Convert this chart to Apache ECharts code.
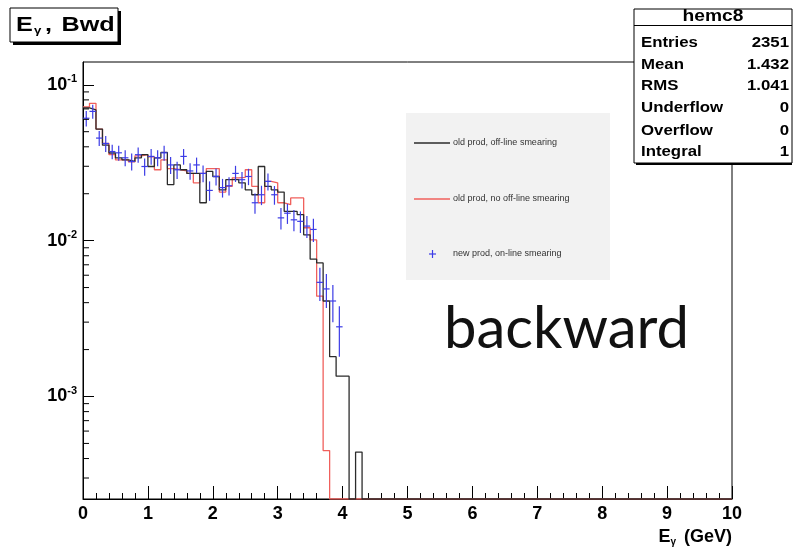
<!DOCTYPE html>
<html>
<head>
<meta charset="utf-8">
<script src="https://cdn.jsdelivr.net/npm/echarts@6/dist/echarts.min.js"></script>
<style>
  html, body { margin: 0; padding: 0; background: #ffffff; }
  #chart { width: 796px; height: 550px; }
</style>
</head>
<body>
<div id="chart"></div>
<script>
// ---- histogram content: 0.1 GeV bins starting at E = 0 ----
const BIN_WIDTH = 0.1;

// old prod, off-line smearing (bins 0 .. 42, later bins empty)
const oldOfflineSmearing = [
  0.071, 0.069, 0.052, 0.041, 0.0365, 0.034, 0.033, 0.0322, 0.034, 0.0356,
  0.0299, 0.034, 0.0368, 0.0229, 0.0306, 0.0285, 0.027, 0.027, 0.0175, 0.0278,
  0.0258, 0.0212, 0.0246, 0.0246, 0.0235, 0.0212, 0.0197, 0.0299, 0.0223, 0.0212,
  0.0205, 0.0154, 0.0154, 0.0147, 0.0109, 0.0076, 0.0072, 0.0041, 0.0018, 0.00135,
  0.00135, 0, 0.00044
];

// old prod, no off-line smearing (bins 0 .. 37)
const oldNoSmearing = [
  0.072, 0.076, 0.052, 0.042, 0.0356, 0.033, 0.033, 0.032, 0.035, 0.0356,
  0.0345, 0.0285, 0.033, 0.029, 0.0285, 0.028, 0.027, 0.0235, 0.027, 0.029,
  0.029, 0.0205, 0.0223, 0.0253, 0.0255, 0.0285, 0.0223, 0.0175, 0.024, 0.0235,
  0.0175, 0.017, 0.0188, 0.0188, 0.0121, 0.0101, 0.0044, 0.00045
];

// new prod, on-line smearing: bin contents and their errors (bins 0 .. 39)
const newOnlineSmearing = [
  0.061, 0.0675, 0.0455, 0.042, 0.0373, 0.0366, 0.034, 0.0322, 0.0356, 0.0299,
  0.0347, 0.034, 0.0366, 0.0306, 0.0285, 0.0347, 0.028, 0.0306, 0.027, 0.021,
  0.0258, 0.0219, 0.0225, 0.027, 0.0246, 0.0258, 0.0175, 0.0197, 0.024, 0.0197,
  0.014, 0.015, 0.0136, 0.0133, 0.0124, 0.0118, 0.0054, 0.0049, 0.0041, 0.0028
];
const newOnlineErrors = [
  0.007, 0.007, 0.005, 0.005, 0.004, 0.004, 0.004, 0.004, 0.004, 0.0038,
  0.004, 0.004, 0.004, 0.0038, 0.0036, 0.004, 0.0034, 0.0035, 0.0033, 0.003,
  0.0032, 0.003, 0.003, 0.0032, 0.003, 0.0031, 0.0026, 0.0028, 0.003, 0.0027,
  0.0022, 0.0022, 0.0021, 0.0021, 0.002, 0.002, 0.0013, 0.0012, 0.0011, 0.001
];

// log-axis minor tick values (2..9 per decade inside the frame)
const yMinorTicks = [
  3e-4, 4e-4, 5e-4, 6e-4, 7e-4, 8e-4, 9e-4,
  2e-3, 3e-3, 4e-3, 5e-3, 6e-3, 7e-3, 8e-3, 9e-3,
  2e-2, 3e-2, 4e-2, 5e-2, 6e-2, 7e-2, 8e-2, 9e-2
];

const legendLabels = [
  'old prod, off-line smearing',
  'old prod, no off-line smearing',
  'new prod, on-line smearing'
];
const statsLabels = ['Entries', 'Mean', 'RMS', 'Underflow', 'Overflow', 'Integral'];
const statsValues = ['2351', '1.432', '1.041', '0', '0', '1'];

// ---- axis ranges and styling ----
const X_MIN = 0, X_MAX = 10;
const Y_MIN = 2.2e-4, Y_MAX = 0.14;
const FONT = '"Liberation Sans", Arial, Helvetica, sans-serif';
const BLACK = '#2b2b2b';
const RED = '#f0605c';
const BLUE = '#3c3ce6';

// Step outline of a histogram; empty bins sit on the bottom of the frame.
function stepPoints(values) {
  const pts = values.map((v, i) => [i * BIN_WIDTH, v > 0 ? v : Y_MIN]);
  pts.push([values.length * BIN_WIDTH, Y_MIN]);
  pts.push([X_MAX, Y_MIN]);
  return pts;
}

const chart = echarts.init(document.getElementById('chart'), null, { renderer: 'canvas' });

const statsRowY = [43, 64.5, 86, 108, 130.5, 152];
const legendRowY = [143, 199, 254];

const graphics = [
  // title box with shadow
  { type: 'rect', z: 10, shape: { x: 13, y: 11, width: 108, height: 34 }, style: { fill: '#000' } },
  { type: 'rect', z: 11, shape: { x: 10, y: 8, width: 108, height: 34 }, style: { fill: '#fff', stroke: '#000', lineWidth: 1 } },
  {
    type: 'text', z: 12, x: 16, y: 25, scaleX: 1.2,
    style: {
      text: '{e|E}{s|γ}{c|,}{b|Bwd}',
      verticalAlign: 'middle',
      rich: {
        e: { fontFamily: FONT, fontWeight: 'bold', fontSize: 21, fill: '#000' },
        s: { fontFamily: FONT, fontWeight: 'bold', fontSize: 11, fill: '#000', padding: [12, 2, 0, 1] },
        c: { fontFamily: FONT, fontWeight: 'bold', fontSize: 21, fill: '#000', padding: [0, 8, 0, 1] },
        b: { fontFamily: FONT, fontWeight: 'bold', fontSize: 21, fill: '#000' }
      }
    }
  },
  // statistics box with shadow
  { type: 'rect', z: 10, shape: { x: 636, y: 11, width: 156, height: 154 }, style: { fill: '#000' } },
  { type: 'rect', z: 11, shape: { x: 634, y: 9, width: 158, height: 154 }, style: { fill: '#fff', stroke: '#000', lineWidth: 1 } },
  { type: 'line', z: 12, shape: { x1: 634, y1: 25.5, x2: 792, y2: 25.5 }, style: { stroke: '#000', lineWidth: 1 } },
  {
    type: 'text', z: 12, x: 713, y: 17, scaleX: 1.2,
    style: { text: 'hemc8', font: 'bold 16px ' + FONT, fill: '#000', align: 'center', verticalAlign: 'middle' }
  },
  // legend pad
  { type: 'rect', z: 5, shape: { x: 406, y: 113, width: 204, height: 167 }, style: { fill: '#f2f2f2' } },
  { type: 'line', z: 6, shape: { x1: 414, y1: legendRowY[0], x2: 450, y2: legendRowY[0] }, style: { stroke: BLACK, lineWidth: 1.3 } },
  { type: 'line', z: 6, shape: { x1: 414, y1: legendRowY[1], x2: 450, y2: legendRowY[1] }, style: { stroke: RED, lineWidth: 1.3 } },
  { type: 'line', z: 6, shape: { x1: 429, y1: legendRowY[2], x2: 436, y2: legendRowY[2] }, style: { stroke: BLUE, lineWidth: 1.2 } },
  { type: 'line', z: 6, shape: { x1: 432.5, y1: legendRowY[2] - 4, x2: 432.5, y2: legendRowY[2] + 4 }, style: { stroke: BLUE, lineWidth: 1.2 } },
  // channel tag
  {
    type: 'text', z: 6, x: 444, y: 329,
    style: { text: 'backward', font: '58px Lato, "Open Sans", sans-serif', fill: '#111', verticalAlign: 'middle' }
  }
];

statsLabels.forEach((label, i) => {
  graphics.push({
    type: 'text', z: 12, x: 641, y: statsRowY[i], scaleX: 1.12,
    style: { text: label, font: 'bold 15px ' + FONT, fill: '#000', verticalAlign: 'middle' }
  });
  graphics.push({
    type: 'text', z: 12, x: 789, y: statsRowY[i], scaleX: 1.12,
    style: { text: statsValues[i], font: 'bold 15px ' + FONT, fill: '#000', align: 'right', verticalAlign: 'middle' }
  });
});
legendLabels.forEach((label, i) => {
  graphics.push({
    type: 'text', z: 6, x: 453, y: legendRowY[i],
    style: { text: label, font: '9px ' + FONT, fill: '#333', verticalAlign: 'middle' }
  });
});

const option = {
  animation: false,
  backgroundColor: '#ffffff',
  grid: {
    left: 83, right: 64, top: 62, bottom: 51,
    show: true, borderColor: '#000', borderWidth: 1, backgroundColor: 'transparent'
  },
  xAxis: {
    type: 'value',
    min: X_MIN, max: X_MAX, interval: 1,
    name: '{b|E}{s|γ}{b| (GeV)}',
    nameLocation: 'end',
    nameGap: 0,
    nameTextStyle: {
      align: 'right', verticalAlign: 'top', padding: [28, 0, 0, 0],
      rich: {
        b: { fontFamily: FONT, fontWeight: 'bold', fontSize: 18, color: '#000' },
        s: { fontFamily: FONT, fontWeight: 'bold', fontSize: 10, color: '#000', padding: [10, 3, 0, 0] }
      }
    },
    axisLine: { show: true, onZero: false, lineStyle: { color: '#000', width: 1 } },
    axisTick: { show: true, inside: true, length: 13, lineStyle: { color: '#000', width: 1 } },
    minorTick: { show: true, splitNumber: 5, length: 6, lineStyle: { color: '#000', width: 1 } },
    splitLine: { show: false },
    minorSplitLine: { show: false },
    axisLabel: {
      margin: 6, color: '#000', fontFamily: FONT, fontWeight: 'bold', fontSize: 18,
      showMinLabel: true, showMaxLabel: true
    }
  },
  yAxis: {
    type: 'log',
    logBase: 10,
    min: Y_MIN, max: Y_MAX,
    axisLine: { show: true, onZero: false, lineStyle: { color: '#000', width: 1 } },
    axisTick: { show: true, inside: true, length: 11, lineStyle: { color: '#000', width: 1 } },
    splitLine: { show: false },
    axisLabel: {
      margin: 6,
      showMinLabel: false, showMaxLabel: false,
      formatter: function (v) {
        const e = Math.log10(v);
        const r = Math.round(e);
        if (Math.abs(e - r) > 1e-6) return '';
        return '{b|10}{s|' + r + '}';
      },
      rich: {
        b: { fontFamily: FONT, fontWeight: 'bold', fontSize: 18, color: '#000', lineHeight: 22 },
        s: { fontFamily: FONT, fontWeight: 'bold', fontSize: 11, color: '#000', verticalAlign: 'top', lineHeight: 22 }
      }
    }
  },
  series: [
    {
      name: legendLabels[0],
      type: 'line',
      step: 'end',
      showSymbol: false,
      symbol: 'none',
      z: 3,
      lineStyle: { color: BLACK, width: 1.3 },
      data: stepPoints(oldOfflineSmearing)
    },
    {
      name: legendLabels[1],
      type: 'line',
      step: 'end',
      showSymbol: false,
      symbol: 'none',
      z: 2,
      lineStyle: { color: RED, width: 1.3 },
      data: stepPoints(oldNoSmearing)
    },
    {
      name: legendLabels[2],
      type: 'custom',
      z: 4,
      encode: { x: 0, y: 1 },
      data: newOnlineSmearing.map((v, i) => [(i + 0.5) * BIN_WIDTH, v, newOnlineErrors[i]]),
      renderItem: function (params, api) {
        const x = api.value(0), v = api.value(1), e = api.value(2);
        const pL = api.coord([x - BIN_WIDTH / 2, v]);
        const pR = api.coord([x + BIN_WIDTH / 2, v]);
        const pT = api.coord([x, v + e]);
        const pB = api.coord([x, Math.max(v - e, Y_MIN)]);
        const st = { stroke: BLUE, lineWidth: 1.2 };
        return {
          type: 'group',
          children: [
            { type: 'line', shape: { x1: pL[0], y1: pL[1], x2: pR[0], y2: pR[1] }, style: st },
            { type: 'line', shape: { x1: pT[0], y1: pT[1], x2: pB[0], y2: pB[1] }, style: st }
          ]
        };
      }
    },
    {
      name: 'y minor ticks',
      type: 'custom',
      z: 5,
      silent: true,
      encode: { x: 0, y: 1 },
      data: yMinorTicks.map(v => [X_MIN, v]),
      renderItem: function (params, api) {
        const p = api.coord([api.value(0), api.value(1)]);
        return {
          type: 'line',
          shape: { x1: p[0], y1: p[1], x2: p[0] + 6, y2: p[1] },
          style: { stroke: '#000', lineWidth: 1 }
        };
      }
    }
  ],
  graphic: graphics
};

chart.setOption(option);
</script>
</body>
</html>
